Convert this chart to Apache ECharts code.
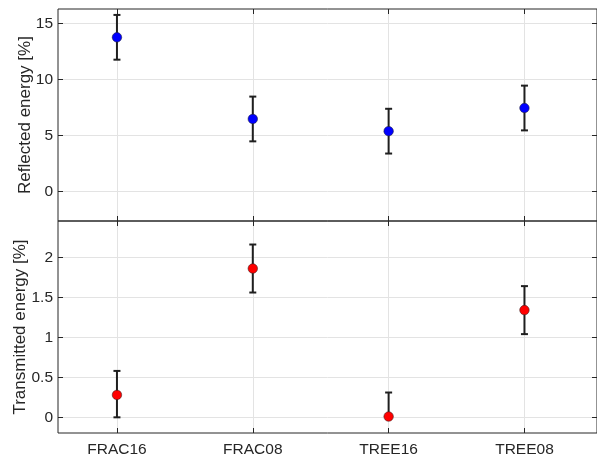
<!DOCTYPE html>
<html>
<head>
<meta charset="utf-8">
<script src="https://cdn.jsdelivr.net/npm/echarts@6/dist/echarts.min.js"></script>
<style>
html,body{margin:0;padding:0;background:#fff;}
#c{width:597px;height:456px;}
</style>
</head>
<body>
<div id="c"></div>
<script>
const categories = ['FRAC16', 'FRAC08', 'TREE16', 'TREE08'];
const reflected = [13.77, 6.47, 5.38, 7.45];
const reflectedErrLow = [2.0, 2.0, 2.0, 2.0];
const reflectedErrHigh = [2.0, 2.0, 2.0, 2.0];
const transmitted = [0.28, 1.86, 0.01, 1.34];
const transmittedErrLow = [0.28, 0.30, 0.01, 0.30];
const transmittedErrHigh = [0.30, 0.30, 0.30, 0.30];
const xTicks = [1, 2, 3, 4];
const reflectedTicks = [0, 5, 10, 15];
const transmittedTicks = [0, 0.5, 1, 1.5, 2];

const FONT = 'Liberation Sans, Arial, sans-serif';
const AX = '#262626';
const GRIDC = '#e3e3e3';

function pts(vals) { return vals.map((v, i) => [xTicks[i], v]); }
function errs(vals, lo, hi) { return vals.map((v, i) => [xTicks[i], v - lo[i], v + hi[i]]); }

function errRender(params, api) {
  const x = api.value(0);
  const p1 = api.coord([x, api.value(2)]);
  const p2 = api.coord([x, api.value(1)]);
  const hw = 3.5;
  const st = { stroke: '#1f1f1f', lineWidth: 2 };
  return {
    type: 'group',
    children: [
      { type: 'line', shape: { x1: p1[0], y1: p1[1], x2: p2[0], y2: p2[1] }, style: st },
      { type: 'line', shape: { x1: p1[0] - hw, y1: p1[1], x2: p1[0] + hw, y2: p1[1] }, style: st },
      { type: 'line', shape: { x1: p2[0] - hw, y1: p2[1], x2: p2[0] + hw, y2: p2[1] }, style: st }
    ]
  };
}

function xAxisDef(gridIndex, position, showLabel) {
  return {
    type: 'value', gridIndex, position, min: 0.566, max: 4.534,
    axisLine: { show: false, onZero: false },
    axisTick: { show: true, inside: true, length: 5, customValues: xTicks, lineStyle: { color: AX, width: 1 } },
    axisLabel: {
      show: showLabel, customValues: xTicks, margin: 9,
      formatter: v => categories[Math.round(v) - 1] || '',
      fontFamily: FONT, fontSize: 15.5, color: AX
    },
    splitLine: { show: position === 'bottom', customValues: xTicks, lineStyle: { color: GRIDC, width: 1 } }
  };
}

function yAxisDef(gridIndex, position, min, max, ticks, name, nameGap, isMain, fmt) {
  return {
    type: 'value', gridIndex, position, min, max,
    name: isMain ? name : '', nameLocation: 'middle', nameGap, nameMoveOverlap: false,
    nameTextStyle: { fontFamily: FONT, fontSize: 17, color: AX },
    axisLine: { show: false, onZero: false },
    axisTick: { show: true, inside: true, length: 5, customValues: ticks, lineStyle: { color: AX, width: 1 } },
    axisLabel: { show: isMain, customValues: ticks, margin: 5, fontFamily: FONT, fontSize: 15.5, color: AX, formatter: fmt },
    splitLine: { show: isMain, customValues: ticks, lineStyle: { color: GRIDC, width: 1 } }
  };
}

const chart = echarts.init(document.getElementById('c'), null, { renderer: 'canvas' });
chart.setOption({
  animation: false,
  backgroundColor: '#fff',
  grid: [
    { left: 58, top: 9, width: 539, height: 212, outerBoundsMode: 'none', containLabel: false, show: true, borderColor: AX, borderWidth: 1, backgroundColor: 'transparent' },
    { left: 58, top: 221, width: 539, height: 212, outerBoundsMode: 'none', containLabel: false, show: true, borderColor: AX, borderWidth: 1, backgroundColor: 'transparent' }
  ],
  xAxis: [
    xAxisDef(0, 'bottom', false),
    xAxisDef(0, 'top', false),
    xAxisDef(1, 'bottom', true),
    xAxisDef(1, 'top', false)
  ],
  yAxis: [
    yAxisDef(0, 'left', -2.65, 16.3, reflectedTicks, 'Reflected energy [%]', 24, true, v => String(v)),
    yAxisDef(0, 'right', -2.65, 16.3, reflectedTicks, '', 0, false),
    yAxisDef(1, 'left', -0.196, 2.454, transmittedTicks, 'Transmitted energy [%]', 29, true, v => String(v)),
    yAxisDef(1, 'right', -0.196, 2.454, transmittedTicks, '', 0, false)
  ],
  series: [
    { type: 'custom', xAxisIndex: 0, yAxisIndex: 0, renderItem: errRender, data: errs(reflected, reflectedErrLow, reflectedErrHigh), z: 2 },
    { type: 'scatter', xAxisIndex: 0, yAxisIndex: 0, data: pts(reflected), symbolSize: 9.5,
      itemStyle: { color: '#0000ff', borderColor: 'rgba(30,30,60,0.7)', borderWidth: 0.8, opacity: 1 }, z: 3 },
    { type: 'custom', xAxisIndex: 2, yAxisIndex: 2, renderItem: errRender, data: errs(transmitted, transmittedErrLow, transmittedErrHigh), z: 2 },
    { type: 'scatter', xAxisIndex: 2, yAxisIndex: 2, data: pts(transmitted), symbolSize: 9.5,
      itemStyle: { color: '#ff0000', borderColor: 'rgba(60,30,30,0.7)', borderWidth: 0.8, opacity: 1 }, z: 3 }
  ]
});
</script>
</body>
</html>
